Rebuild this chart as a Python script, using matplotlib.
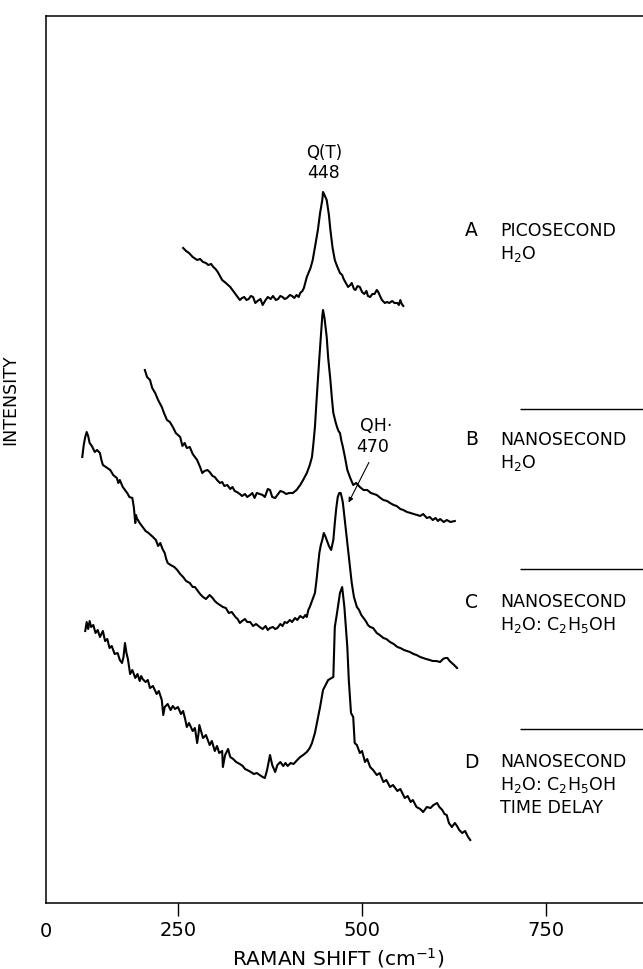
import matplotlib
matplotlib.use('Agg')
import matplotlib.pyplot as plt

# spectra: raman shift (cm-1) vs intensity (arb. units)
a_x = [257, 261, 265, 270, 276, 280, 284, 288, 291, 295, 298, 301, 304, 307, 310, 315, 321, 325, 328, 331,
       334, 337, 340, 343, 346, 349, 352, 355, 358, 362, 365, 369, 372, 376, 379, 383, 386, 389, 392, 395,
       398, 402, 405, 408, 411, 414, 416, 419, 421, 425, 430, 433, 437, 440, 443, 446, 447, 449, 452, 455,
       457, 460, 463, 466, 470, 473, 475, 478, 481, 484, 486, 489, 491, 494, 497, 500, 503, 506, 508, 511,
       514, 517, 520, 522, 525, 527, 531, 534, 537, 541, 544, 548, 550, 552, 554, 556]
a_y = [655, 652, 650, 646, 643, 644, 641, 640, 638, 639, 636, 634, 631, 627, 623, 620, 616, 612, 609, 606,
       603, 605, 606, 603, 604, 607, 606, 600, 602, 604, 598, 603, 606, 604, 607, 603, 604, 607, 606, 604,
       605, 608, 607, 605, 608, 606, 610, 612, 615, 626, 635, 643, 660, 673, 690, 703, 711, 708, 703, 688,
       673, 655, 643, 637, 630, 628, 624, 620, 616, 618, 620, 614, 613, 617, 616, 611, 609, 612, 607, 606,
       609, 609, 613, 611, 606, 603, 600, 601, 600, 602, 600, 600, 598, 603, 599, 597]

b_x = [205, 208, 212, 215, 219, 223, 228, 231, 235, 239, 243, 247, 250, 253, 256, 259, 262, 266, 270, 273,
       276, 280, 283, 286, 290, 293, 297, 300, 303, 307, 310, 313, 317, 321, 324, 327, 330, 334, 337, 341,
       344, 348, 351, 354, 357, 361, 365, 368, 372, 375, 378, 382, 386, 389, 393, 397, 401, 406, 411, 416,
       420, 425, 429, 432, 434, 436, 438, 440, 442, 444, 446, 447, 449, 452, 454, 457, 459, 461, 464, 466,
       468, 470, 472, 474, 477, 480, 484, 488, 492, 497, 502, 507, 512, 516, 520, 525, 529, 534, 538, 543,
       547, 552, 556, 561, 566, 570, 575, 579, 583, 588, 592, 596, 600, 603, 606, 611, 615, 620, 626]
b_y = [533, 526, 523, 515, 510, 503, 496, 490, 483, 481, 476, 470, 468, 466, 457, 460, 455, 456, 449, 446,
       443, 436, 430, 432, 433, 431, 427, 426, 423, 420, 421, 417, 418, 414, 416, 412, 411, 409, 407, 409,
       406, 408, 410, 405, 410, 409, 408, 406, 414, 413, 406, 405, 409, 412, 411, 409, 410, 410, 413, 418,
       423, 430, 438, 446, 460, 476, 500, 523, 545, 566, 587, 593, 585, 566, 545, 523, 505, 490, 481, 476,
       472, 470, 462, 456, 445, 433, 425, 418, 420, 416, 413, 413, 410, 409, 408, 405, 403, 402, 400, 398,
       397, 394, 393, 391, 390, 389, 388, 387, 389, 385, 386, 383, 385, 382, 384, 381, 383, 381, 382]

c_x = [120, 122, 124, 126, 128, 130, 133, 137, 140, 144, 146, 148, 152, 158, 162, 167, 169, 171, 175, 181,
       184, 188, 190, 192, 193, 194, 198, 202, 206, 210, 216, 220, 223, 226, 229, 232, 234, 236, 240, 245,
       249, 253, 257, 261, 266, 270, 273, 276, 280, 284, 288, 293, 297, 300, 303, 307, 311, 315, 319, 323,
       328, 331, 334, 337, 341, 344, 348, 352, 356, 361, 365, 369, 372, 375, 379, 382, 385, 389, 392, 395,
       398, 402, 405, 409, 412, 416, 420, 423, 425, 427, 429, 432, 436, 438, 440, 442, 444, 446, 448, 450,
       452, 455, 458, 461, 463, 465, 467, 469, 471, 473, 474, 477, 480, 483, 486, 489, 493, 496, 499, 501,
       505, 508, 511, 515, 520, 524, 529, 533, 538, 543, 548, 552, 557, 561, 565, 570, 574, 579, 583, 587,
       592, 596, 601, 606, 610, 613, 616, 619, 622, 625, 629]
c_y = [446, 458, 466, 471, 467, 460, 457, 451, 453, 450, 443, 438, 436, 433, 428, 425, 420, 423, 416, 410,
       406, 405, 396, 380, 388, 385, 380, 376, 372, 370, 366, 363, 357, 360, 354, 350, 344, 340, 338, 336,
       333, 329, 326, 322, 320, 316, 316, 313, 309, 306, 304, 308, 305, 302, 300, 298, 296, 295, 290, 291,
       286, 284, 280, 282, 284, 281, 281, 277, 279, 276, 274, 277, 273, 275, 276, 274, 275, 279, 277, 281,
       280, 283, 281, 285, 283, 287, 285, 288, 286, 293, 296, 302, 310, 322, 336, 350, 358, 363, 370, 367,
       363, 357, 353, 363, 380, 395, 406, 410, 410, 404, 400, 380, 360, 340, 320, 306, 296, 293, 288, 286,
       282, 278, 276, 275, 270, 268, 265, 264, 261, 259, 256, 255, 253, 252, 251, 249, 248, 246, 245, 244,
       243, 242, 242, 241, 244, 245, 245, 242, 240, 238, 235]

d_x = [124, 126, 128, 130, 132, 135, 138, 141, 144, 148, 151, 154, 157, 160, 164, 168, 171, 174, 176, 178,
       180, 182, 185, 188, 192, 195, 198, 200, 202, 206, 209, 212, 216, 221, 224, 228, 230, 232, 236, 240,
       243, 246, 250, 254, 257, 260, 262, 265, 270, 273, 276, 278, 279, 282, 284, 288, 293, 296, 300, 303,
       306, 310, 311, 314, 318, 321, 325, 329, 334, 338, 341, 344, 349, 353, 357, 361, 365, 368, 371, 375,
       378, 382, 385, 389, 393, 396, 399, 403, 407, 412, 416, 420, 425, 429, 432, 436, 443, 447, 454, 461,
       463, 466, 470, 473, 476, 480, 482, 485, 488, 490, 493, 497, 500, 504, 507, 511, 515, 520, 524, 529,
       533, 538, 542, 548, 552, 558, 562, 566, 569, 574, 579, 583, 588, 593, 597, 602, 605, 609, 612, 615,
       618, 622, 626, 629, 632, 636, 640, 644, 647]
d_y = [272, 281, 274, 282, 276, 278, 270, 273, 266, 272, 262, 264, 255, 257, 249, 250, 243, 240, 246, 260,
       250, 244, 229, 233, 225, 229, 222, 227, 224, 221, 223, 215, 217, 209, 212, 203, 188, 196, 199, 193,
       197, 194, 196, 189, 192, 183, 176, 180, 172, 175, 160, 170, 178, 170, 165, 168, 158, 162, 152, 157,
       150, 152, 136, 148, 154, 146, 144, 141, 139, 137, 134, 133, 131, 129, 130, 128, 126, 125, 133, 148,
       138, 131, 138, 141, 137, 140, 137, 140, 139, 143, 146, 148, 151, 155, 160, 170, 196, 213, 223, 226,
       276, 290, 310, 316, 296, 256, 223, 190, 186, 160, 158, 150, 152, 141, 144, 136, 133, 128, 130, 121,
       123, 116, 118, 112, 114, 105, 107, 101, 103, 96, 94, 91, 96, 95, 98, 100, 96, 93, 89, 88,
       80, 76, 80, 77, 73, 70, 72, 66, 63]

tick_vals = [250, 500, 750]
tick_labels = ['250', '500', '750']

# curve labels: letter, text lines, y of first line
labels = [('A', ['PICOSECOND', r'H$_2$O'], 672),
          ('B', ['NANOSECOND', r'H$_2$O'], 463),
          ('C', ['NANOSECOND', r'H$_2$O: C$_2$H$_5$OH'], 301),
          ('D', ['NANOSECOND', r'H$_2$O: C$_2$H$_5$OH', 'TIME DELAY'], 141)]
sep_y = [494, 334, 174]

plt.rcParams['font.family'] = ['DejaVu Sans']
plt.rcParams['mathtext.fontset'] = 'dejavusans'

fig = plt.figure(figsize=(6.43, 9.69), dpi=100)
ax = fig.add_axes([0.0715, 0.0681, 0.949, 0.9154])

for xs, ys in [(a_x, a_y), (b_x, b_y), (c_x, c_y), (d_x, d_y)]:
    ax.plot(xs, ys, color='black', lw=1.5, solid_joinstyle='round')

ax.set_xlim(70.7, 899.5)
ax.set_ylim(0, 887)

ax.spines['right'].set_visible(False)
for s in ['left', 'top', 'bottom']:
    ax.spines[s].set_linewidth(1.1)

ax.set_xticks(tick_vals)
ax.set_xticklabels(tick_labels)
ax.tick_params(axis='x', direction='out', length=9, width=1, pad=4, labelsize=14)
ax.set_yticks([])
ax.text(0, -0.0316, '0', transform=ax.transAxes, ha='center', va='center', fontsize=14)

ax.set_xlabel(r'RAMAN SHIFT (cm$^{-1}$)', fontsize=14.5, va='center')
ax.xaxis.set_label_coords(0.5257, 0.0114, transform=fig.transFigure)
ax.set_ylabel('INTENSITY', fontsize=12.5, va='center')
ax.yaxis.set_label_coords(-0.058, 0.567)

# peak annotations
ax.text(448, 750, 'Q(T)', ha='center', va='center', fontsize=12)
ax.text(448, 730, '448', ha='center', va='center', fontsize=12.5)
ax.text(519, 477, 'QH·', ha='center', va='center', fontsize=12.5)
ax.text(515, 456, '470', ha='center', va='center', fontsize=12.5)
ax.annotate('', xy=(480, 398), xytext=(511, 443),
            arrowprops=dict(arrowstyle='-|>', lw=0.8, color='black', mutation_scale=7))

for letter, lines, y0 in labels:
    ax.text(649, y0, letter, ha='center', va='center', fontsize=13.5)
    for i, t in enumerate(lines):
        ax.text(688, y0 - 23 * i, t, ha='left', va='center', fontsize=12.5)

ax.hlines(sep_y, 715, 900, color='black', lw=1.0)

fig.savefig('out.png', dpi=100)
